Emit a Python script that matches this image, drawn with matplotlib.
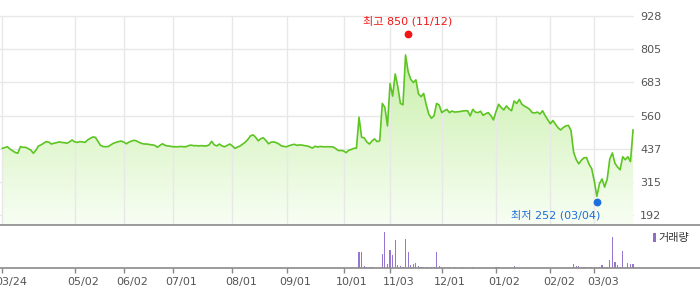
import numpy as np
import matplotlib
matplotlib.use('Agg')
import matplotlib.pyplot as plt
from matplotlib.colors import LinearSegmentedColormap
from matplotlib.lines import Line2D
from matplotlib.patches import Rectangle, PathPatch
from matplotlib.transforms import ScaledTranslation, offset_copy

plt.rcParams['font.family'] = ['DejaVu Sans', 'Noto Sans CJK KR']

# 일별 종가 (거래일 기준)
price = [
    439, 442, 445, 436, 430, 424, 421, 445, 443, 443,
    438, 433, 421, 432, 448, 452, 458, 464, 462, 455,
    458, 460, 463, 461, 460, 458, 463, 470, 463, 461,
    464, 463, 461, 470, 476, 481, 480, 465, 450, 446,
    445, 446, 452, 458, 461, 464, 466, 462, 456, 462,
    466, 469, 466, 461, 457, 455, 455, 453, 452, 450,
    443, 450, 456, 450, 448, 447, 445, 445, 445, 446,
    445, 445, 449, 451, 449, 449, 448, 449, 448, 448,
    452, 465, 452, 448, 455, 448, 445, 450, 455, 448,
    439, 444, 448, 455, 462, 472, 485, 489, 480, 467,
    475, 478, 468, 456, 462, 463, 460, 455, 448, 446,
    445, 449, 452, 454, 450, 452, 451, 449, 448, 444,
    440, 447, 444, 446, 445, 445, 445, 445, 444, 438,
    431, 431, 430, 423, 432, 435, 439, 440, 554, 480,
    478, 463, 455, 466, 474, 464, 467, 605, 590, 522,
    679, 632, 714, 667, 605, 600, 784, 722, 694, 682,
    692, 640, 630, 642, 600, 565, 550, 559, 605, 599,
    571, 578, 583, 571, 577, 573, 574, 575, 577, 578,
    578, 559, 583, 573, 571, 576, 561, 567, 571, 560,
    544, 575, 602, 590, 581, 596, 585, 578, 614, 605,
    620, 602, 595, 590, 583, 571, 570, 573, 566, 578,
    560, 545, 530, 542, 528, 515, 507, 516, 522, 524,
    505, 425, 398, 382, 395, 404, 405, 380, 364, 318,
    262, 308, 326, 296, 325, 400, 422, 384, 370, 360,
    408, 397, 408, 390, 507,
]

# 거래량 (천주) - 10월 이전은 거의 없음
volume = [0] * 138 + [
    160, 160, 23, 10, 10, 10, 0, 0, 0, 140,
    360, 40, 180, 130, 280, 33, 23, 10, 290, 160,
    30, 45, 50, 23, 10, 10, 10, 10, 10, 10,
    160, 23, 10, 10, 0, 8, 0, 8, 0, 0,
    8, 0, 0, 0, 8, 0, 0, 0, 0, 0,
    0, 0, 0, 8, 8, 0, 0, 0, 0, 0,
    18, 0, 0, 0, 0, 0, 0, 0, 0, 0,
    0, 0, 0, 0, 0, 0, 0, 0, 0, 0,
    0, 0, 0, 37, 20, 20, 10, 10, 10, 10,
    10, 10, 10, 10, 27, 10, 10, 77, 310, 60,
    27, 10, 170, 10, 50, 37, 37,
]

tick_idx = [0, 28, 47, 66, 89, 110, 132, 150, 170, 191, 212, 229]
tick_labels = ['03/24', '05/02', '06/02', '07/01', '08/01', '09/01',
               '10/01', '11/03', '12/01', '01/02', '02/02', '03/03']
y_ticks = [192, 315, 437, 560, 683, 805, 928]

high_idx, high_val, high_date = 157, 850, '11/12'
low_idx, low_val, low_date = 230, 252, '03/04'

days = np.arange(len(price))
W, H = 700, 289
fig = plt.figure(figsize=(W / 100, H / 100), dpi=100)

x_lo, x_hi = -0.89, 244.37
y_lo, y_hi = 155.9, 987.1

ax = fig.add_axes([0, (H - 225) / H, 634 / W, 225 / H])
ax_v = fig.add_axes([0, (H - 268) / H, 634 / W, 43 / H], sharex=ax)

# 가격 영역 (그라데이션)
poly = ax.fill_between(days, price, y_lo, color='none', lw=0)
clip = PathPatch(poly.get_paths()[0], transform=ax.transData,
                 fc='none', ec='none')
ax.add_patch(clip)
cmap = LinearSegmentedColormap.from_list('g', ['#f8fef4', '#c4eea3'])
grad = np.linspace(0, 1, 256).reshape(-1, 1)
im = ax.imshow(grad, extent=[x_lo, x_hi, y_lo, 850], aspect='auto',
               origin='lower', cmap=cmap, zorder=1)
im.set_clip_path(clip)
ax.plot(days, price, color='#5cc522', lw=1.2, zorder=3)

# 그리드
for v in y_ticks:
    ax.axhline(v, color='#e8e8e8', lw=1, zorder=0)
ax.vlines(tick_idx, y_lo, 928, color='#e8e8e8', lw=1, zorder=2)

ax.set_xlim(x_lo, x_hi)
ax.set_ylim(y_lo, y_hi)
ax.set_yticks(y_ticks)
ax.yaxis.tick_right()
ax.tick_params(axis='y', length=0, pad=4.3, labelsize=8, labelcolor='#555555')
ax.tick_params(axis='x', bottom=False, labelbottom=False)
for s in ax.spines.values():
    s.set_visible(False)

# 최고/최저 표시
up = offset_copy(ax.transData, fig=fig, x=0, y=3, units='dots')
down = offset_copy(ax.transData, fig=fig, x=0, y=-3, units='dots')
ax.plot([high_idx], [high_val], 'o', color='#f21616', ms=4.6, transform=up,
        zorder=5, clip_on=False)
ax.plot([low_idx], [low_val], 'o', color='#1c6fdc', ms=4.6, transform=down,
        zorder=5, clip_on=False)
ax.annotate('최고 %d (%s)' % (high_val, high_date), xy=(high_idx, high_val),
            xytext=(-0.5, 11.5), textcoords='offset points', ha='center',
            va='center', fontsize=8, color='#f21616')
ax.annotate('최저 %d (%s)' % (low_val, low_date), xy=(low_idx, low_val),
            xytext=(2.3, -12), textcoords='offset points', ha='right',
            va='center', fontsize=8, color='#1c6fdc')

# 거래량
ax_v.bar(days, volume, width=0.45, color='#9677cf', lw=0)
ax_v.set_ylim(0, 430)
ax_v.set_yticks([])
ax_v.set_xticks(tick_idx)
ax_v.set_xticklabels(tick_labels)
ax_v.tick_params(axis='x', length=3.5, width=1, color='#888888', pad=3,
                 labelsize=8, labelcolor='#555555')
shift = ScaledTranslation(-7.5 / 100, 0, fig.dpi_scale_trans)
for lab in ax_v.get_xticklabels():
    lab.set_horizontalalignment('left')
    lab.set_transform(lab.get_transform() + shift)
for s in ax_v.spines.values():
    s.set_visible(False)
ax_v.patch.set_alpha(0)

# 구분선 (전체 폭)
fig.add_artist(Line2D([0, 1], [(H - 225) / H] * 2, color='#8a8a8a', lw=1.2))
fig.add_artist(Line2D([0, 1], [(H - 268) / H] * 2, color='#8a8a8a', lw=1.2))

# 범례
fig.add_artist(Rectangle((653 / W, (H - 242) / H), 3 / W, 9 / H,
                         transform=fig.transFigure, color='#8e6cc8', lw=0))
fig.text(658 / W, (H - 238) / H, '거래량', fontsize=8, color='#333333',
         va='center', ha='left')

fig.savefig('out.png', dpi=100)
